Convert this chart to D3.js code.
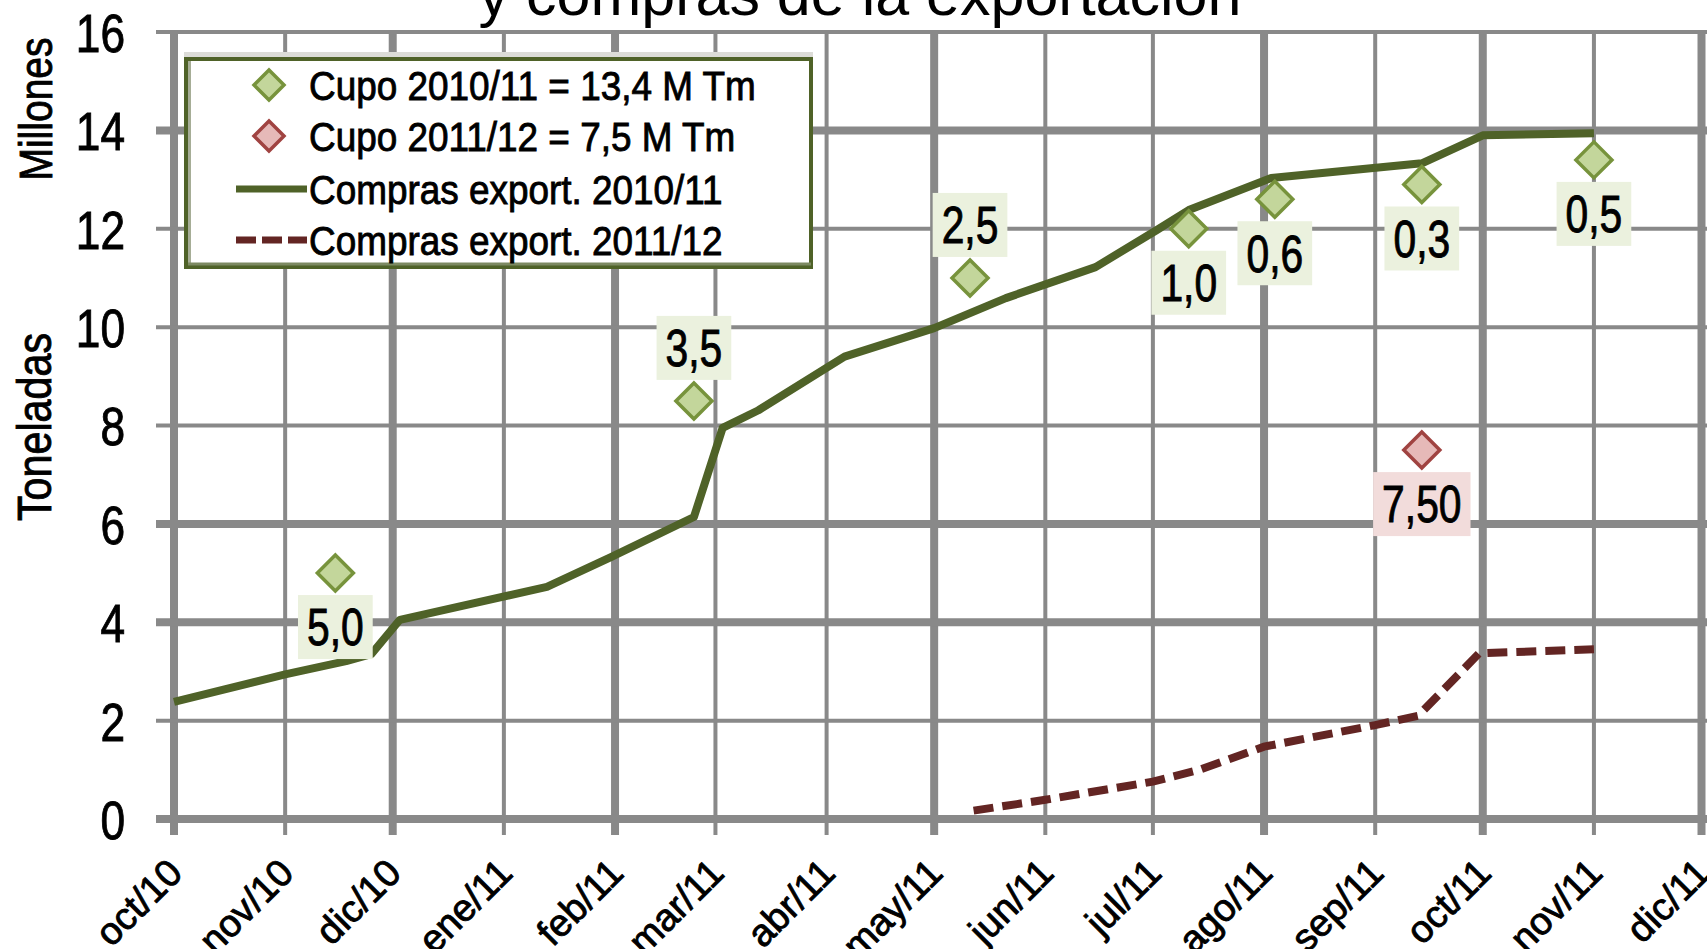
<!DOCTYPE html>
<html>
<head>
<meta charset="utf-8">
<script src="https://cdn.jsdelivr.net/npm/d3@7"></script>
<style>
  body { margin: 0; background: #fff; }
  svg { display: block; }
  .heavy { stroke: #000; stroke-width: 0.9px; }
</style>
</head>
<body>
<div id="chart"></div>
<script>
// Cupos y compras de la exportación

var width = 1707, height = 949;

// x axis: one tick per month
var monthTicks = ["2010-10-01", "2010-11-01", "2010-12-01", "2011-01-01", "2011-02-01",
  "2011-03-01", "2011-04-01", "2011-05-01", "2011-06-01", "2011-07-01", "2011-08-01",
  "2011-09-01", "2011-10-01", "2011-11-01", "2011-12-01"];
var monthLabels = ["oct/10", "nov/10", "dic/10", "ene/11", "feb/11", "mar/11", "abr/11",
  "may/11", "jun/11", "jul/11", "ago/11", "sep/11", "oct/11", "nov/11", "dic/11"];

// y axis ticks (millones de toneladas)
var yTicks = [0, 2, 4, 6, 8, 10, 12, 14, 16];

// Compras export. 2010/11 (acumulado)
var compras1011Dates = ["2010-10-01", "2010-11-01", "2010-11-18", "2010-11-25", "2010-12-03",
  "2011-01-13", "2011-01-31", "2011-02-23", "2011-03-03", "2011-03-13", "2011-04-06",
  "2011-05-01", "2011-05-21", "2011-06-15", "2011-07-02", "2011-07-11", "2011-08-03",
  "2011-09-14", "2011-10-01", "2011-11-01"];
var compras1011Values = [2.38, 2.94, 3.21, 3.35, 4.05, 4.72, 5.33, 6.14, 7.95, 8.31, 9.4,
  9.98, 10.59, 11.22, 11.97, 12.38, 13.03, 13.33, 13.9, 13.94];

// Compras export. 2011/12 (acumulado)
var compras1112Dates = ["2011-05-12", "2011-06-01", "2011-07-01", "2011-07-14", "2011-08-01",
  "2011-09-01", "2011-09-13", "2011-09-30", "2011-11-01"];
var compras1112Values = [0.17, 0.39, 0.76, 1.0, 1.47, 1.91, 2.1, 3.37, 3.45];

// Cupo 2010/11 = 13,4 M Tm (acumulado, con el incremento de cada apertura)
var cupo1011Dates = ["2010-11-15", "2011-02-23", "2011-05-11", "2011-07-11", "2011-08-04",
  "2011-09-14", "2011-11-01"];
var cupo1011Values = [5.0, 8.5, 11.0, 12.0, 12.6, 12.9, 13.4];
var cupo1011Labels = ["5,0", "3,5", "2,5", "1,0", "0,6", "0,3", "0,5"];

// Cupo 2011/12 = 7,5 M Tm
var cupo1112Dates = ["2011-09-14"];
var cupo1112Values = [7.5];
var cupo1112Labels = ["7,50"];

// where each data label sits relative to its marker
var cupo1011LabelAbove = [false, true, true, false, false, false, false];

// no condensed face is installed, so narrow text is squeezed horizontally
var font = "'Liberation Sans', Arial, sans-serif";
var gridColor = "#898989";
var green = "#4f6228", darkRed = "#632523";

var parse = d3.timeParse("%Y-%m-%d");

var svg = d3.select("#chart")
    .append("svg")
    .attr("width", width)
    .attr("height", height)
    .style("font-family", font);

var x = d3.scaleTime()
    .domain([parse("2010-10-01"), parse("2011-12-01")])
    .range([174, 1701.5]);

var y = d3.scaleLinear()
    .domain([0, 16])
    .range([819, 32]);

// title (only its last line is visible)
svg.append("text")
    .attr("x", 860)
    .attr("y", 15)
    .attr("text-anchor", "middle")
    .style("font-size", "61px")
    .text("y compras de la exportación");

// gridlines: the source picture alternates heavier and lighter lines
var thickY = [0, 4, 6, 14];
var thickMonths = [0, 2, 4, 7, 10, 12, 14];

svg.append("g")
    .selectAll("line")
    .data(monthTicks)
    .enter()
    .append("line")
    .attr("x1", d => x(parse(d)))
    .attr("x2", d => x(parse(d)))
    .attr("y1", y(16) - 2)
    .attr("y2", 835)
    .attr("stroke", gridColor)
    .attr("stroke-width", (d, i) => thickMonths.includes(i) ? 8 : 4);

svg.append("g")
    .selectAll("line")
    .data(yTicks)
    .enter()
    .append("line")
    .attr("x1", 156)
    .attr("x2", width)
    .attr("y1", d => y(d))
    .attr("y2", d => y(d))
    .attr("stroke", gridColor)
    .attr("stroke-width", d => thickY.includes(d) ? 8 : 4);

// y axis labels
var yAxis = svg.append("g")
    .attr("transform", "translate(125,0)")
    .call(d3.axisLeft(y).tickValues(yTicks).tickSize(0).tickPadding(0));
yAxis.select(".domain").remove();
yAxis.selectAll("text")
    .attr("x", 0)
    .attr("dy", "0.36em")
    .attr("transform", "scale(0.82,1)")
    .attr("class", "heavy")
    .style("font-family", font)
    .style("font-size", "54px")
    .attr("fill", "#000");

// x axis labels, rotated
var xAxis = svg.append("g")
    .attr("transform", "translate(0,819)")
    .call(d3.axisBottom(x)
        .tickValues(monthTicks.map(parse))
        .tickFormat((d, i) => monthLabels[i])
        .tickSize(0));
xAxis.select(".domain").remove();
xAxis.selectAll("text")
    .attr("y", 0)
    .attr("dy", 0)
    .attr("text-anchor", "end")
    .attr("transform", "translate(10,56) rotate(-45)")
    .attr("class", "heavy")
    .style("font-family", font)
    .style("font-size", "38px")
    .attr("fill", "#000");

// axis titles
svg.append("text")
    .attr("transform", "translate(52,109) rotate(-90) scale(0.83,1)")
    .attr("text-anchor", "middle")
    .attr("class", "heavy")
    .style("font-size", "47px")
    .text("Millones");

svg.append("text")
    .attr("transform", "translate(51,427) rotate(-90) scale(0.86,1)")
    .attr("text-anchor", "middle")
    .attr("class", "heavy")
    .style("font-size", "48px")
    .text("Toneladas");

// lines
var line = d3.line()
    .x(d => x(d[0]))
    .y(d => y(d[1]));

svg.append("path")
    .datum(compras1011Dates.map((d, i) => [parse(d), compras1011Values[i]]))
    .attr("d", line)
    .attr("fill", "none")
    .attr("stroke", green)
    .attr("stroke-width", 8)
    .attr("stroke-linejoin", "round");

svg.append("path")
    .datum(compras1112Dates.map((d, i) => [parse(d), compras1112Values[i]]))
    .attr("d", line)
    .attr("fill", "none")
    .attr("stroke", darkRed)
    .attr("stroke-width", 8)
    .attr("stroke-dasharray", "20,9");

// diamond markers with their data labels
function diamond(r) {
  return "M0," + (-r) + "L" + r + ",0L0," + r + "L" + (-r) + ",0Z";
}

function drawCupo(dates, values, labels, above, fill, stroke, boxFill) {
  var g = svg.append("g");
  dates.forEach(function(d, i) {
    var cx = x(parse(d)), cy = y(values[i]);
    g.append("path")
        .attr("d", diamond(18))
        .attr("transform", "translate(" + cx + "," + cy + ")")
        .attr("fill", fill)
        .attr("stroke", stroke)
        .attr("stroke-width", 3.5);

    var ly = above[i] ? cy - 53 : cy + 54;
    var box = g.append("rect");
    var t = g.append("text")
        .attr("dy", "0.36em")
        .attr("text-anchor", "middle")
        .attr("transform", "translate(" + cx + "," + ly + ") scale(0.8,1)")
        .attr("class", "heavy")
        .style("font-size", "51px")
        .text(labels[i]);
    var w = t.node().getComputedTextLength() * 0.8 + 18;
    box.attr("x", cx - w / 2)
        .attr("y", ly - 32)
        .attr("width", w)
        .attr("height", 64)
        .attr("fill", boxFill);
  });
}

drawCupo(cupo1011Dates, cupo1011Values, cupo1011Labels, cupo1011LabelAbove,
    "#c3d69b", "#77933c", "#ebf1de");
drawCupo(cupo1112Dates, cupo1112Values, cupo1112Labels, [false],
    "#e6b9b8", "#a04341", "#f2dcdb");

// legend
var legend = svg.append("g");
legend.append("rect")
    .attr("x", 184).attr("y", 52)
    .attr("width", 629).attr("height", 6)
    .attr("fill", "#dcdcd8");
legend.append("rect")
    .attr("x", 186).attr("y", 59)
    .attr("width", 625).attr("height", 208)
    .attr("fill", "#fff")
    .attr("stroke", green)
    .attr("stroke-width", 4);
legend.append("line")
    .attr("x1", 189.5).attr("x2", 189.5)
    .attr("y1", 61).attr("y2", 264)
    .attr("stroke", "#a6ad96")
    .attr("stroke-width", 3);
legend.append("line")
    .attr("x1", 188).attr("x2", 811)
    .attr("y1", 264).attr("y2", 264)
    .attr("stroke", "#7d8a62")
    .attr("stroke-width", 3);

var legendItems = [
  { label: "Cupo 2010/11 = 13,4 M Tm", kind: "diamond", fill: "#c3d69b", stroke: "#77933c" },
  { label: "Cupo 2011/12 = 7,5 M Tm", kind: "diamond", fill: "#e6b9b8", stroke: "#a04341" },
  { label: "Compras export. 2010/11", kind: "line", stroke: green, dash: null },
  { label: "Compras export. 2011/12", kind: "line", stroke: darkRed, dash: "20,6" }
];
var legendRows = [85, 136, 189, 240];

legendItems.forEach(function(item, i) {
  var ly = legendRows[i];
  if (item.kind === "diamond") {
    legend.append("path")
        .attr("d", diamond(15))
        .attr("transform", "translate(269," + ly + ")")
        .attr("fill", item.fill)
        .attr("stroke", item.stroke)
        .attr("stroke-width", 3.5);
  } else {
    legend.append("line")
        .attr("x1", 236).attr("x2", 307)
        .attr("y1", ly).attr("y2", ly)
        .attr("stroke", item.stroke)
        .attr("stroke-width", 7)
        .attr("stroke-dasharray", item.dash);
  }
  legend.append("text")
      .attr("dy", "0.36em")
      .attr("transform", "translate(309," + ly + ") scale(0.9,1)")
      .attr("class", "heavy")
      .style("font-size", "41px")
      .text(item.label);
});
</script>
</body>
</html>
